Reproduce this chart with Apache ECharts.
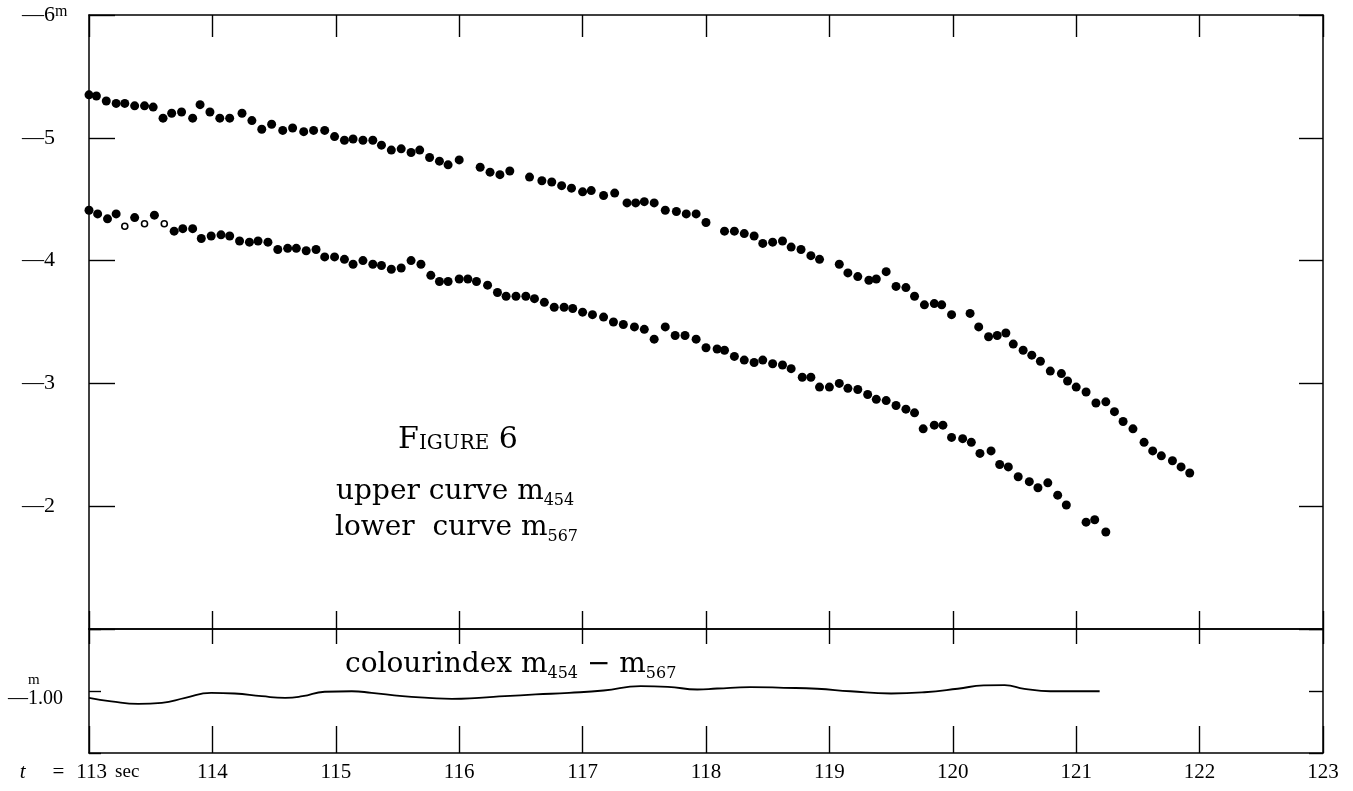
<!DOCTYPE html>
<html>
<head>
<meta charset="utf-8">
<title>Figure 6</title>
<script src="https://cdn.jsdelivr.net/npm/echarts@6/dist/echarts.min.js"></script>
<style>
  html, body { margin: 0; padding: 0; background: #fff; }
  #chart { width: 1353px; height: 791px; }
</style>
</head>
<body>
<div id="chart"></div>
<script>
// magnitude m454 (upper curve): time in seconds, magnitude
const upperTime = [
  113.00,113.06,113.14,113.22,113.29,113.37,113.45,113.52,113.60,113.67,
  113.75,113.84,113.90,113.98,114.06,114.14,114.24,114.32,114.40,114.48,
  114.57,114.65,114.74,114.82,114.91,114.99,115.07,115.14,115.22,115.30,
  115.37,115.45,115.53,115.61,115.68,115.76,115.84,115.91,116.00,116.17,
  116.25,116.33,116.41,116.57,116.67,116.75,116.83,116.91,117.00,117.07,
  117.17,117.26,117.36,117.43,117.50,117.58,117.67,117.76,117.84,117.92,
  118.00,118.15,118.23,118.31,118.39,118.46,118.54,118.62,118.69,118.77,
  118.85,118.92,119.08,119.15,119.23,119.32,119.38,119.46,119.54,119.62,
  119.69,119.77,119.85,119.91,119.99,120.14,120.21,120.29,120.36,120.43,
  120.49,120.57,120.64,120.71,120.79,120.88,120.93,121.00,121.08,121.16,
  121.24,121.31,121.38,121.46,121.55,121.62,121.69,121.78,121.85,121.92
];
const upperMag = [
  -5.35,-5.34,-5.30,-5.28,-5.28,-5.26,-5.26,-5.25,-5.16,-5.20,
  -5.21,-5.16,-5.27,-5.21,-5.16,-5.16,-5.20,-5.14,-5.07,-5.11,
  -5.06,-5.08,-5.05,-5.06,-5.06,-5.01,-4.98,-4.99,-4.98,-4.98,
  -4.94,-4.90,-4.91,-4.88,-4.90,-4.84,-4.81,-4.78,-4.82,-4.76,
  -4.72,-4.70,-4.73,-4.68,-4.65,-4.64,-4.61,-4.59,-4.56,-4.57,
  -4.53,-4.55,-4.47,-4.47,-4.48,-4.47,-4.41,-4.40,-4.38,-4.38,
  -4.31,-4.24,-4.24,-4.22,-4.20,-4.14,-4.15,-4.16,-4.11,-4.09,
  -4.04,-4.01,-3.97,-3.90,-3.87,-3.84,-3.85,-3.91,-3.79,-3.78,
  -3.71,-3.64,-3.65,-3.64,-3.56,-3.57,-3.46,-3.38,-3.39,-3.41,
  -3.32,-3.27,-3.23,-3.18,-3.10,-3.08,-3.02,-2.97,-2.93,-2.84,
  -2.85,-2.77,-2.69,-2.63,-2.52,-2.45,-2.41,-2.37,-2.32,-2.27
];

// magnitude m567 (lower curve)
const lowerTime = [
  113.00,113.07,113.15,113.22,113.29,113.37,113.45,113.53,113.61,113.69,
  113.76,113.84,113.91,113.99,114.07,114.14,114.22,114.30,114.37,114.45,
  114.53,114.61,114.68,114.76,114.84,114.91,114.99,115.07,115.14,115.22,
  115.30,115.37,115.45,115.53,115.61,115.69,115.77,115.84,115.91,116.00,
  116.07,116.14,116.23,116.31,116.38,116.46,116.54,116.61,116.69,116.77,
  116.85,116.92,117.00,117.08,117.17,117.25,117.33,117.42,117.50,117.58,
  117.67,117.75,117.83,117.92,118.00,118.09,118.15,118.23,118.31,118.39,
  118.46,118.54,118.62,118.69,118.78,118.85,118.92,119.00,119.08,119.15,
  119.23,119.31,119.38,119.46,119.54,119.62,119.69,119.76,119.85,119.92,
  119.99,120.08,120.15,120.22,120.31,120.38,120.45,120.53,120.62,120.69,
  120.77,120.85,120.92,121.08,121.15,121.24
];
const lowerMag = [
  -4.41,-4.38,-4.34,-4.38,-4.28,-4.35,-4.30,-4.37,-4.30,-4.24,
  -4.26,-4.26,-4.18,-4.20,-4.21,-4.20,-4.16,-4.15,-4.16,-4.15,
  -4.09,-4.10,-4.10,-4.08,-4.09,-4.03,-4.03,-4.01,-3.97,-4.00,
  -3.97,-3.96,-3.93,-3.94,-4.00,-3.97,-3.88,-3.83,-3.83,-3.85,
  -3.85,-3.83,-3.80,-3.74,-3.71,-3.71,-3.71,-3.69,-3.66,-3.62,
  -3.62,-3.61,-3.58,-3.56,-3.54,-3.50,-3.48,-3.46,-3.44,-3.36,
  -3.46,-3.39,-3.39,-3.36,-3.29,-3.28,-3.27,-3.22,-3.19,-3.17,
  -3.19,-3.16,-3.15,-3.12,-3.05,-3.05,-2.97,-2.97,-3.00,-2.96,
  -2.95,-2.91,-2.87,-2.86,-2.82,-2.79,-2.76,-2.63,-2.66,-2.66,
  -2.56,-2.55,-2.52,-2.43,-2.45,-2.34,-2.32,-2.24,-2.20,-2.15,
  -2.19,-2.09,-2.01,-1.87,-1.89,-1.79
];
// lower-curve readings drawn as open circles
const hollowTimes = [113.29, 113.45, 113.61];

// colour index m454 - m567 (smoothed curve)
const colourTime = [
  113.00,113.18,113.40,113.59,113.78,113.99,114.18,114.40,114.59,114.73,
  114.91,115.13,115.29,115.54,115.75,115.94,116.16,116.37,116.62,116.89,
  117.17,117.47,117.69,117.93,118.09,118.36,118.63,118.90,119.17,119.50,
  119.77,120.04,120.25,120.42,120.58,120.79,121.19
];
const colourIndex = [
  -0.945,-0.917,-0.896,-0.904,-0.945,-0.985,-0.980,-0.958,-0.945,-0.958,
  -0.994,-0.998,-0.985,-0.958,-0.945,-0.937,-0.945,-0.958,-0.972,-0.985,
  -1.004,-1.039,-1.034,-1.012,-1.020,-1.031,-1.026,-1.018,-0.998,-0.980,
  -0.990,-1.018,-1.045,-1.047,-1.018,-0.998,-0.998
];

const INK = '#000';
const SERIF = 'Liberation Serif';
const BIG = 'DejaVu Serif';

const frame = { lineStyle: { color: INK, width: 1.5 } };
function tick(len) {
  return { show: true, inside: true, length: len, lineStyle: { color: INK, width: 1.4 } };
}

const upperData = upperTime.map((t, i) => [t, upperMag[i]]);
const lowerData = lowerTime.map((t, i) => {
  const hollow = hollowTimes.indexOf(t) >= 0;
  return hollow
    ? { value: [t, lowerMag[i]], symbolSize: 6, itemStyle: { color: '#fff', borderColor: INK, borderWidth: 1.6, opacity: 1 } }
    : [t, lowerMag[i]];
});
const colourData = colourTime.map((t, i) => [t, colourIndex[i]]);

const xBase = {
  type: 'value', min: 113, max: 123, interval: 1,
  axisLine: frame, splitLine: { show: false }, axisLabel: { show: false }
};

const option = {
  backgroundColor: '#fff',
  animation: false,
  grid: [
    { left: 89, right: 30, top: 15, height: 614 },
    { left: 89, right: 30, top: 629, height: 124 }
  ],
  xAxis: [
    Object.assign({}, xBase, { gridIndex: 0, position: 'bottom', axisTick: tick(18) }),
    Object.assign({}, xBase, { gridIndex: 0, position: 'top', axisTick: tick(22) }),
    Object.assign({}, xBase, { gridIndex: 1, position: 'top', axisTick: tick(15) }),
    Object.assign({}, xBase, {
      gridIndex: 1, position: 'bottom', axisTick: tick(27),
      axisLabel: {
        show: true, margin: 9, color: INK, fontFamily: SERIF, fontSize: 21,
        showMinLabel: true, showMaxLabel: true,
        formatter: function (v) {
          if (v === 113) return '{ti|t}{eq|=}113{sec|sec}';
          return String(v);
        },
        rich: {
          ti: { fontFamily: SERIF, fontStyle: 'italic', fontSize: 21, color: INK, padding: [0, 27, 0, 0] },
          eq: { fontFamily: SERIF, fontSize: 21, color: INK, padding: [0, 12, 0, 0] },
          sec: { fontFamily: SERIF, fontSize: 19, color: INK, padding: [0, 19, 0, 8] }
        }
      }
    })
  ],
  yAxis: [
    {
      type: 'value', gridIndex: 0, position: 'left', min: -6, max: -1, interval: 1, inverse: true,
      axisLine: frame, splitLine: { show: false }, axisTick: tick(26),
      axisLabel: {
        color: INK, fontFamily: SERIF, fontSize: 22, margin: 67, align: 'left',
        showMinLabel: true, showMaxLabel: true,
        formatter: function (v) {
          if (v === -1) return '';
          if (v === -6) return '—6{sup|m}';
          return '—' + (-v);
        },
        rich: {
          sup: { fontFamily: SERIF, fontSize: 16, color: INK, verticalAlign: 'top', lineHeight: 14 }
        }
      }
    },
    {
      type: 'value', gridIndex: 0, position: 'right', min: -6, max: -1, interval: 1, inverse: true,
      axisLine: frame, splitLine: { show: false }, axisTick: tick(24), axisLabel: { show: false }
    },
    {
      type: 'value', gridIndex: 1, position: 'left', min: -1.5, max: -0.5, interval: 0.5, inverse: true,
      axisLine: frame, splitLine: { show: false }, axisTick: tick(12),
      axisLabel: {
        color: INK, fontFamily: SERIF, fontSize: 20, margin: 81, align: 'left',
        formatter: function (v) {
          return v === -1 ? '{u|m}\n{v|—1.00}' : '';
        },
        rich: {
          u: { fontFamily: SERIF, fontSize: 15, color: INK, padding: [0, 0, 0, 20], lineHeight: 16 },
          v: { fontFamily: SERIF, fontSize: 20, color: INK, lineHeight: 22 }
        }
      }
    },
    {
      type: 'value', gridIndex: 1, position: 'right', min: -1.5, max: -0.5, interval: 0.5, inverse: true,
      axisLine: frame, splitLine: { show: false }, axisTick: tick(14), axisLabel: { show: false }
    }
  ],
  series: [
    {
      name: 'm454', type: 'scatter', xAxisIndex: 0, yAxisIndex: 0,
      data: upperData, symbol: 'circle', symbolSize: 9,
      itemStyle: { color: INK, opacity: 1 }, silent: true
    },
    {
      name: 'm567', type: 'scatter', xAxisIndex: 0, yAxisIndex: 0,
      data: lowerData, symbol: 'circle', symbolSize: 9,
      itemStyle: { color: INK, opacity: 1 }, silent: true
    },
    {
      name: 'colourindex', type: 'line', xAxisIndex: 3, yAxisIndex: 2,
      data: colourData, smooth: 0.5, showSymbol: false,
      lineStyle: { color: INK, width: 1.8 }, silent: true
    }
  ],
  graphic: [
    {
      type: 'text', x: 458, y: 440, silent: true,
      style: {
        text: '{f|F}{s|IGURE}{f| 6}',
        textAlign: 'center', textVerticalAlign: 'middle',
        rich: {
          f: { fontFamily: BIG, fontSize: 30, fill: INK, lineHeight: 36 },
          s: { fontFamily: BIG, fontSize: 20, fill: INK, lineHeight: 34, verticalAlign: 'bottom', padding: [0, 0, 4, 0] }
        }
      }
    },
    {
      type: 'text', x: 336, y: 492, silent: true,
      style: {
        text: '{a|upper curve m}{b|454}',
        textAlign: 'left', textVerticalAlign: 'middle',
        rich: {
          a: { fontFamily: BIG, fontSize: 28, fill: INK, lineHeight: 34 },
          b: { fontFamily: BIG, fontSize: 16, fill: INK, lineHeight: 14, verticalAlign: 'bottom' }
        }
      }
    },
    {
      type: 'text', x: 335, y: 528, silent: true,
      style: {
        text: '{a|lower  curve m}{b|567}',
        textAlign: 'left', textVerticalAlign: 'middle',
        rich: {
          a: { fontFamily: BIG, fontSize: 28, fill: INK, lineHeight: 34 },
          b: { fontFamily: BIG, fontSize: 16, fill: INK, lineHeight: 14, verticalAlign: 'bottom' }
        }
      }
    },
    {
      type: 'text', x: 345, y: 665, silent: true,
      style: {
        text: '{a|colourindex m}{b|454}{a| − m}{b|567}',
        textAlign: 'left', textVerticalAlign: 'middle',
        rich: {
          a: { fontFamily: BIG, fontSize: 28, fill: INK, lineHeight: 34 },
          b: { fontFamily: BIG, fontSize: 16, fill: INK, lineHeight: 14, verticalAlign: 'bottom' }
        }
      }
    }
  ]
};

const chart = echarts.init(document.getElementById('chart'), null, { renderer: 'canvas' });
chart.setOption(option);
</script>
</body>
</html>
